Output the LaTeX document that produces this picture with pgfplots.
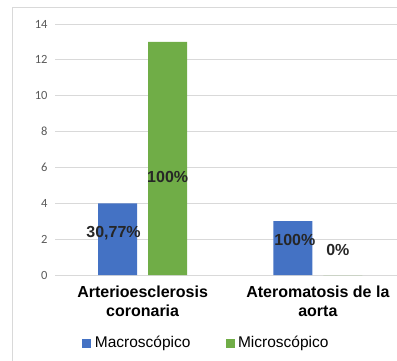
\documentclass[border=0pt]{standalone}
\usepackage{pgfplots}
\pgfplotsset{compat=1.18}
\usepackage{fontspec}
\setmainfont{Liberation Sans}
\newfontfamily\calibri{Carlito}
\definecolor{cblue}{HTML}{4472C4}
\definecolor{cgreen}{HTML}{70AD47}
\definecolor{cgrid}{HTML}{D9D9D9}
\definecolor{ctick}{HTML}{595959}
\begin{document}
\begin{tikzpicture}[x=1pt,y=1pt]
\useasboundingbox (0,0) rectangle (397,-360);
\clip (0,0) rectangle (397,-360);
\draw[cgrid] (12.5,-7.5) rectangle (430,-400);
\begin{axis}[
  at={(55pt,-275pt)}, anchor=south west,
  scale only axis, width=350.5pt, height=251pt,
  xmin=-0.5, xmax=1.5, ymin=0, ymax=14,
  ytick={0,2,...,14},
  xtick={0,1},
  xticklabels={Arterioesclerosis\\coronaria, Ateromatosis de la\\aorta},
  xticklabel style={font=\fontsize{16}{19}\selectfont\bfseries, align=center, text=black, yshift=-7pt},
  yticklabel style={font=\calibri\fontsize{12.5}{14}\selectfont, text=ctick, xshift=-4pt},
  /pgf/number format/assume math mode=true,
  axis line style={draw=none},
  ymajorgrids, grid style={cgrid, line width=0.8pt},
  major tick length=0pt,
  legend style={at={(axis description cs:0.432,-0.271)}, anchor=center, draw=none,
    font=\fontsize{15.5}{17}\selectfont, legend columns=2,
    /tikz/every even column/.append style={column sep=33pt}},
  legend image code/.code={\fill[#1] (0pt,-4.5pt) rectangle (9pt,4.5pt);},
  legend cell align=left,
]
\draw[cgrid, line width=0.8pt] (axis cs:-0.5,0) -- (axis cs:1.5,0);
\addplot[ybar, bar width=39pt, bar shift=-25pt, fill=cblue, draw=none] coordinates {(0,4) (1,3)};
\addlegendentry{\hspace{1.5pt}Macroscópico}
\addplot[ybar, bar width=39pt, bar shift=25pt, fill=cgreen, draw=none] coordinates {(0,13) (1,0)};
\addlegendentry{\hspace{1.5pt}Microscópico}
\addplot[only marks, mark=none, nodes near coords, point meta=explicit symbolic,
  every node near coord/.style={anchor=center, font=\fontsize{16}{19}\selectfont\bfseries, text=black!85}]
  coordinates {(-0.166,2.34) [30,77\%] (0.143,5.47) [100\%] (0.869,1.95) [100\%] (1.114,1.39) [0\%]};
\end{axis}
\end{tikzpicture}
\end{document}
